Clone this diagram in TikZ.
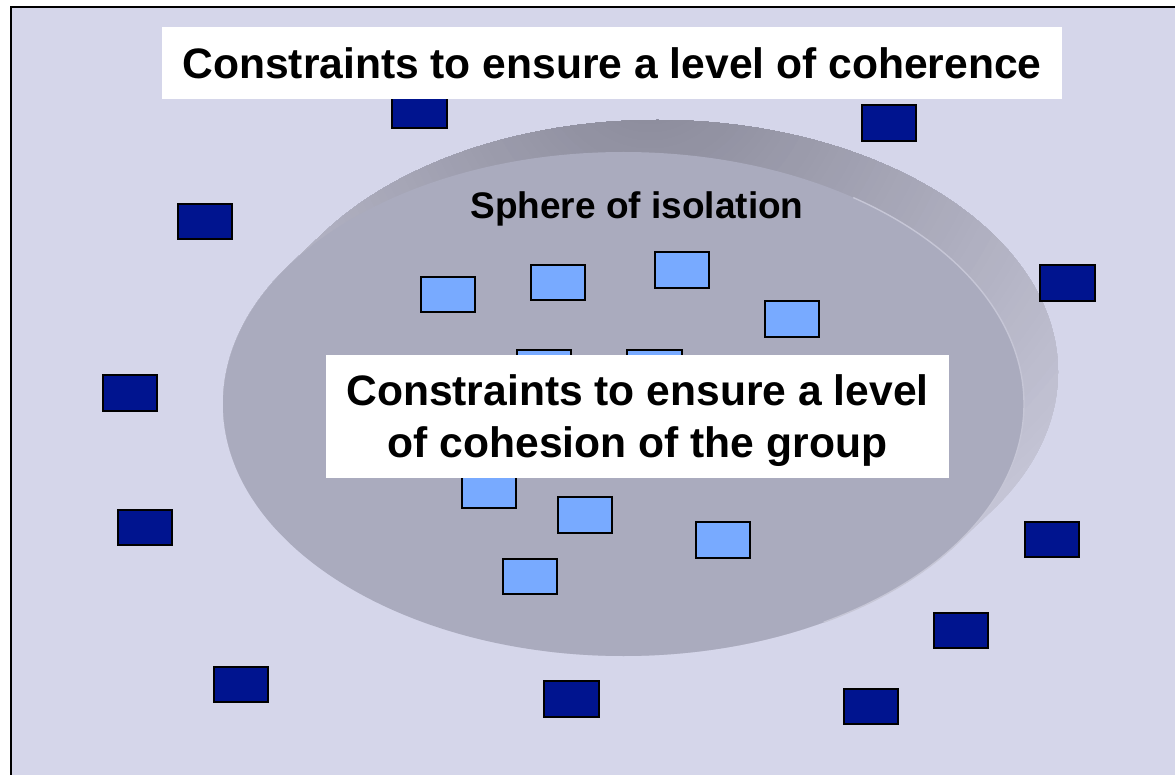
\documentclass[tikz,border=0pt]{standalone}
\usepackage{fontspec}
\setmainfont{Liberation Sans}

\definecolor{pagebg}{HTML}{D5D6EA}
\definecolor{faceC}{HTML}{AAABBE}
\definecolor{rimdark}{HTML}{8E8E9E}
\definecolor{rimlight}{HTML}{C4C4D5}
\definecolor{rimedgeC}{HTML}{C6C6D6}
\definecolor{boxnavy}{HTML}{00148F}
\definecolor{boxsky}{HTML}{78AAFF}

\tikzset{
  outerbox/.style={draw=black, line width=1.6pt, fill=boxnavy,
    minimum width=54.5pt, minimum height=35.5pt, inner sep=0pt},
  innerbox/.style={outerbox, fill=boxsky},
  banner/.style={fill=white, inner sep=0pt, align=center,
    font=\bfseries\fontsize{42.6}{52.8}\selectfont},
  discface/.style={fill=faceC},
  discedge/.style={draw=rimedgeC, line width=1.4pt},
}

\begin{document}
\begin{tikzpicture}[x=1pt, y=-1pt]
  \useasboundingbox (0,0) rectangle (1175,775);

  % page background and frame
  \fill[pagebg] (11,7) rectangle (1175,775);
  \draw[line width=2pt] (11,775) -- (11,7) -- (1175,7);

  % the disc: swept rim behind, lit from the lower right
  \begin{scope}
    \clip foreach \t in {0,0.05,...,0.95,1}
      { ({623.5+34*\t},{404-32*\t}) ellipse [x radius=400.5, y radius=252] };
    \foreach \r in {600,592,...,40} {
      \pgfmathtruncatemacro\p{min(100,max(0,(\r-60)/5))}
      \fill[rimlight!\p!rimdark] (650,60) circle [radius=\r];
    }
  \end{scope}
  % flat face in front
  \fill[discface] (623.5,404) ellipse [x radius=400.5, y radius=252];
  \draw[discedge] ([shift={(-55:400.5 and 252)}]623.5,404)
    arc[start angle=-55, end angle=60, x radius=400.5, y radius=252];

  \node[font=\bfseries\fontsize{37}{44}\selectfont, inner sep=0pt, anchor=base]
    (sphere) at (637,219) {Sphere of isolation};

  % members outside the sphere
  \node[outerbox] (d1)  at (419.5,110.5) {};
  \node[outerbox] (d2)  at (889,123)     {};
  \node[outerbox] (d3)  at (205,221.5)   {};
  \node[outerbox] (d4)  at (1067.5,283)  {};
  \node[outerbox] (d5)  at (130,393)     {};
  \node[outerbox] (d6)  at (145,527.5)   {};
  \node[outerbox] (d7)  at (1052,539.5)  {};
  \node[outerbox] (d8)  at (961,630.5)   {};
  \node[outerbox] (d9)  at (241,684.5)   {};
  \node[outerbox] (d10) at (571.5,699)   {};
  \node[outerbox] (d11) at (871,706.5)   {};

  % members inside the sphere
  \node[innerbox] (l1)  at (448,294.5)   {};
  \node[innerbox] (l2)  at (558,282.5)   {};
  \node[innerbox] (l3)  at (682,270)     {};
  \node[innerbox] (l4)  at (792,319)     {};
  \node[innerbox] (l5)  at (544,367.5)   {};
  \node[innerbox] (l6)  at (654.5,367.5) {};
  \node[innerbox] (l7)  at (489,490.5)   {};
  \node[innerbox] (l8)  at (585,515)     {};
  \node[innerbox] (l9)  at (723,540)     {};
  \node[innerbox] (l10) at (530,576.5)   {};

  % captions
  \node[banner, minimum width=900pt, minimum height=72pt]
    (coherence) at (612,63) {Constraints to ensure a level of coherence};
  \node[banner, minimum width=623pt, minimum height=123pt]
    (cohesion) at (637.5,416.5)
    {\rule{0pt}{39pt}Constraints to ensure a level\\of cohesion of the group};
\end{tikzpicture}
\end{document}
